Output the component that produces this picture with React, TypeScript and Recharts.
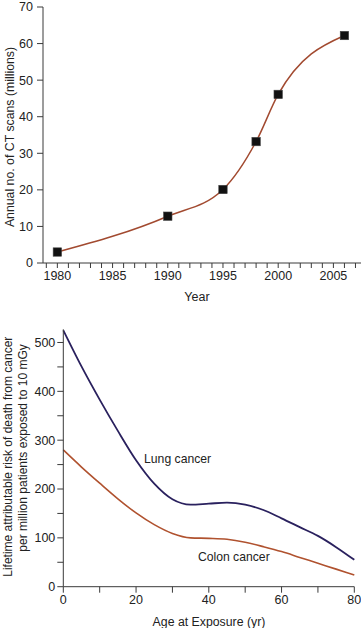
import React from 'react';
import { LineChart, Line, XAxis, YAxis, ReferenceDot, Label } from 'recharts';

// Top panel: annual CT scans (millions)
const years = [1980, 1990, 1995, 1998, 2000, 2006];
const ctScans = [3, 12.8, 20.1, 33.2, 46.1, 62.2];
const yearTicks = [
  1979, 1980, 1981, 1982, 1983, 1984, 1985, 1986, 1987, 1988, 1989, 1990, 1991, 1992, 1993,
  1994, 1995, 1996, 1997, 1998, 1999, 2000, 2001, 2002, 2003, 2004, 2005, 2006, 2007,
];
const yearLabels = [1980, 1985, 1990, 1995, 2000, 2005];
const scanTicks = [0, 10, 20, 30, 40, 50, 60, 70];

// Bottom panel: lifetime attributable risk by age at exposure
const ages = [0, 5, 10, 15, 20, 25, 30, 35, 40, 45, 50, 55, 60, 65, 70, 75, 80];
const lungRisk = [525, 451, 383, 319, 259, 211, 179, 168, 170, 172, 168, 157, 140, 122, 104, 81, 55];
const colonRisk = [280, 245, 212, 180, 151, 127, 109, 100, 99, 97, 91, 82, 72, 60, 48, 36, 24];
const ageTicks = [0, 10, 20, 30, 40, 50, 60, 70, 80];
const ageLabels = [0, 20, 40, 60, 80];
const riskTicks = [0, 50, 100, 150, 200, 250, 300, 350, 400, 450, 500];
const riskLabels = [0, 100, 200, 300, 400, 500];

const ctData = years.map((year, i) => ({ year, scans: ctScans[i] }));
const riskData = ages.map((age, i) => ({ age, lung: lungRisk[i], colon: colonRisk[i] }));

const FONT = '"Liberation Sans", Arial, Helvetica, sans-serif';
const AXIS = '#3a3a3a';
const tickStyle = { fontSize: 12.5, fill: '#222', fontFamily: FONT };

const SquareDot = (props: any) => {
  const { cx, cy, index } = props;
  if (cx == null || cy == null) return null;
  return <rect key={`sq-${index}`} x={cx - 4.2} y={cy - 4.2} width={8.4} height={8.4} fill="#111" stroke="#444" strokeWidth={0.6} />;
};

const App: React.FC = () => {
  return (
    <div style={{ position: 'absolute', left: 0, top: 0, width: 361, height: 628, background: '#fff', fontFamily: FONT }}>
      <div style={{ position: 'absolute', left: 0, top: 0 }}>
        <LineChart width={361} height={310} data={ctData} margin={{ top: 7, right: 0, left: 0, bottom: 10 }}>
          <XAxis
            dataKey="year"
            type="number"
            domain={[1978.7, 2007.5]}
            ticks={yearTicks}
            tickFormatter={(v: number) => (yearLabels.includes(v) ? String(v) : '')}
            interval={0}
            height={37}
            tickSize={5}
            tickMargin={3}
            tick={tickStyle}
            stroke={AXIS}
            allowDataOverflow
          >
            <Label
              content={() => (
                <text x={197} y={297} textAnchor="middle" dominantBaseline="central" fontSize={12.5} fill="#222" fontFamily={FONT}>
                  Year
                </text>
              )}
            />
          </XAxis>
          <YAxis
            type="number"
            domain={[0, 70]}
            ticks={scanTicks}
            interval={0}
            width={43}
            tickSize={6}
            tickMargin={4}
            tick={tickStyle}
            stroke={AXIS}
          >
            <Label
              content={() => (
                <text
                  x={10}
                  y={137}
                  transform="rotate(-90 10 137)"
                  textAnchor="middle"
                  dominantBaseline="central"
                  fontSize={12.3}
                  fill="#222"
                  fontFamily={FONT}
                >
                  Annual no. of CT scans (millions)
                </text>
              )}
            />
          </YAxis>
          <Line
            type="monotone"
            dataKey="scans"
            stroke="#a24a30"
            strokeWidth={1.5}
            dot={SquareDot}
            activeDot={false}
            isAnimationActive={false}
          />
        </LineChart>
      </div>

      <div style={{ position: 'absolute', left: 0, top: 300 }}>
        <LineChart width={361} height={328} data={riskData} margin={{ top: 29.3, right: 6.7, left: 0, bottom: 0 }}>
          <XAxis
            dataKey="age"
            type="number"
            domain={[0, 80]}
            ticks={ageTicks}
            tickFormatter={(v: number) => (ageLabels.includes(v) ? String(v) : '')}
            interval={0}
            height={41.3}
            tickSize={6}
            tickMargin={2}
            tick={tickStyle}
            stroke={AXIS}
          >
            <Label
              content={() => (
                <text x={209} y={321.7} textAnchor="middle" dominantBaseline="central" fontSize={12.3} fill="#222" fontFamily={FONT}>
                  Age at Exposure (yr)
                </text>
              )}
            />
          </XAxis>
          <YAxis
            type="number"
            domain={[0, 527]}
            ticks={riskTicks}
            tickFormatter={(v: number) => (riskLabels.includes(v) ? String(v) : '')}
            interval={0}
            width={63.3}
            tickSize={6}
            tickMargin={2}
            tick={tickStyle}
            stroke={AXIS}
            allowDataOverflow
          >
            <Label
              content={() => (
                <g fontSize={12} fill="#222" fontFamily={FONT}>
                  <text x={8.3} y={156.7} transform="rotate(-90 8.3 156.7)" textAnchor="middle" dominantBaseline="central">
                    Lifetime attributable risk of death from cancer
                  </text>
                  <text x={23.3} y={148} transform="rotate(-90 23.3 148)" textAnchor="middle" dominantBaseline="central">
                    per million patients exposed to 10 mGy
                  </text>
                </g>
              )}
            />
          </YAxis>
          <Line type="monotone" dataKey="lung" stroke="#2a215e" strokeWidth={1.8} dot={false} activeDot={false} isAnimationActive={false} />
          <Line type="monotone" dataKey="colon" stroke="#b0522f" strokeWidth={1.6} dot={false} activeDot={false} isAnimationActive={false} />
          <ReferenceDot
            x={22.2}
            y={263}
            r={0}
            fill="none"
            stroke="none"
            label={{ value: 'Lung cancer', position: 'right', offset: 0, fontSize: 12.2, fill: '#222', fontFamily: FONT }}
          />
          <ReferenceDot
            x={37}
            y={61}
            r={0}
            fill="none"
            stroke="none"
            label={{ value: 'Colon cancer', position: 'right', offset: 0, fontSize: 12.2, fill: '#222', fontFamily: FONT }}
          />
        </LineChart>
      </div>
    </div>
  );
};

export default App;
